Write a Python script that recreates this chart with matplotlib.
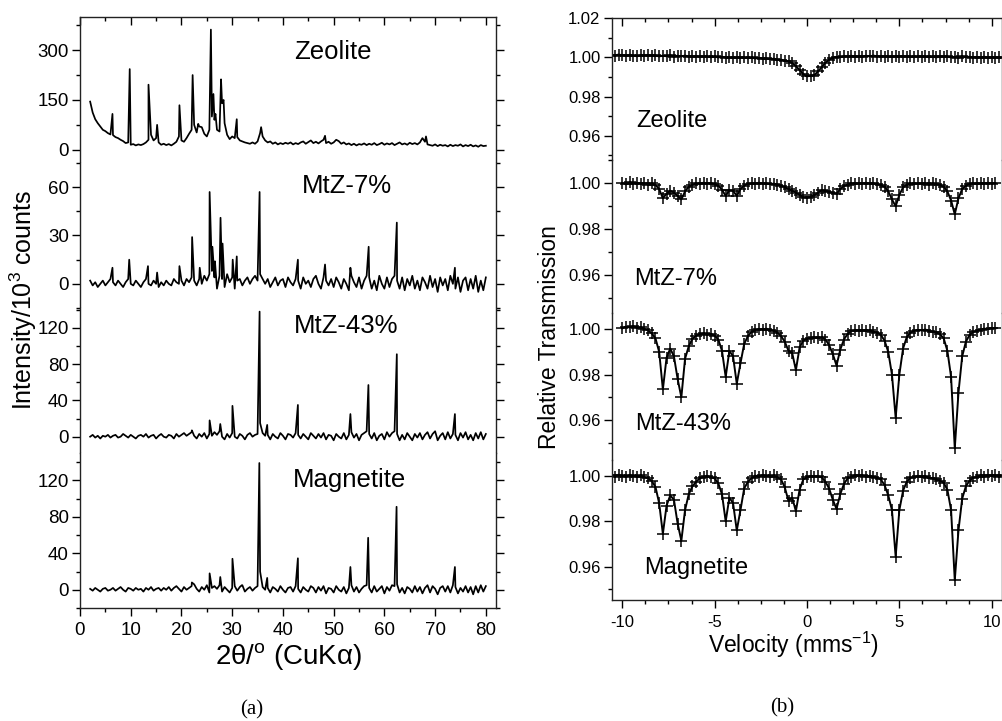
import numpy as np
import matplotlib.pyplot as plt
from matplotlib.ticker import MultipleLocator, FormatStrFormatter

plt.rcParams['font.family'] = ['Liberation Sans', 'DejaVu Sans']
plt.rcParams['mathtext.fontset'] = 'custom'
plt.rcParams['mathtext.rm'] = 'Liberation Sans'
plt.rcParams['mathtext.it'] = 'Liberation Sans:italic'
plt.rcParams['mathtext.bf'] = 'Liberation Sans:bold'
plt.rcParams['axes.unicode_minus'] = False

# ---------------- (a) XRD ----------------
# baseline on a 0.5 deg grid (2..80), peaks as (position, height)
two_theta = np.arange(2.0, 80.01, 0.5)

zeolite_base = [
    145, 112, 92, 80, 70, 60, 56, 50, 46, 44,
    38, 35, 30, 26, 20, 22, 15, 17, 13, 16,
    14, 17, 22, 30, 45, 28, 35, 22, 15, 18,
    14, 17, 13, 18, 24, 40, 28, 24, 35, 48,
    60, 75, 52, 70, 68, 48, 40, 60, 100, 90,
    60, 55, 140, 80, 45, 32, 40, 35, 38, 28,
    25, 22, 20, 18, 22, 18, 25, 50, 40, 28,
    22, 25, 18, 22, 16, 20, 17, 21, 18, 22,
    16, 20, 17, 22, 25, 18, 23, 28, 20, 24,
    19, 25, 30, 20, 24, 18, 22, 30, 26, 18,
    22, 16, 19, 14, 18, 13, 17, 15, 19, 14,
    18, 15, 20, 14, 17, 21, 15, 19, 16, 20,
    14, 18, 22, 16, 19, 15, 21, 17, 20, 16,
    22, 35, 24, 16, 14, 12, 16, 11, 15, 12,
    14, 10, 15, 11, 14, 12, 16, 10, 14, 11,
    15, 10, 13, 9, 14, 11, 12]
zeolite_peak_pos = [6.4, 9.8, 13.5, 15.2, 19.6, 22.2, 23.3, 25.8, 26.3, 26.7,
                    27.8, 28.3, 30.9, 35.7, 48.3, 68.2]
zeolite_peak_h = [108, 243, 196, 75, 134, 225, 78, 362, 168, 108,
                  212, 150, 92, 68, 42, 40]

mtz7_base = [
    2, -1, 1, -2, 0, 2, -1, 1, 3, 1,
    -1, 2, 0, -2, 1, 3, 0, -1, 2, 0,
    -2, 1, 3, 0, -1, 2, 0, -2, 1, -1,
    2, 0, -1, 3, 1, 0, 2, -1, 3, 1,
    4, 2, -1, 3, 0, 5, 2, 6, 8, 4,
    -3, 5, 3, -2, 6, 1, 4, -3, 2, 3,
    -1, 2, 4, 0, 3, 5, 2, 6, 3, 0,
    3, -2, 1, 4, -1, 2, 3, -2, 4, 1,
    -1, 3, 2, -3, 4, 0, 2, -2, 3, 5,
    0, -3, 4, 2, -1, 3, -2, 4, 1, -3,
    3, 0, -4, 5, 1, -2, 4, -3, 2, 5,
    4, -3, 2, -4, 5, 0, -3, 4, -2, 3,
    5, 2, -3, 4, -4, 3, -1, 5, -3, 2,
    -4, 4, 1, -3, 5, -2, 3, -5, 4, -1,
    3, -4, 5, 0, -3, 4, -5, 2, 4, -4,
    3, -3, 5, -5, 2, -4, 4]
mtz7_peak_pos = [6.4, 9.7, 13.4, 15.2, 19.6, 22.1, 23.6, 25.55, 26.1, 26.6,
                 27.7, 28.1, 30.1, 30.9, 35.4, 42.95, 48.3, 53.3, 56.9, 62.45, 73.9]
mtz7_peak_h = [10, 15, 11, 7, 11, 29, 10, 57, 23, 14,
               41, 25, 15, 17, 57, 15, 12, 10, 23, 38, 10]

mtz43_base = [
    0, 2, -1, 1, -2, 1, 0, 2, -1, 1,
    2, -1, 0, 3, 1, -1, 2, 0, -2, 1,
    2, 0, 3, -1, 1, 2, -2, 1, 3, 0,
    -1, 2, 1, -2, 3, 0, 2, 4, 1, 3,
    5, 1, -2, 3, 0, 4, -2, 3, 1, 5,
    2, 6, 0, -3, 3, -1, 4, 0, -2, 3,
    1, -3, 2, 4, 0, 2, 3, 15, 4, 1,
    2, -3, 3, 0, -2, 4, 1, -3, 3, 2,
    -1, 4, 2, -2, 3, 0, -3, 4, 1, -2,
    3, -1, 4, -3, 2, 1, -4, 3, 0, -2,
    4, -3, 2, 5, -1, 3, -4, 2, 4, 6,
    3, -2, 4, -4, 1, 3, -3, 5, 0, 4,
    6, 3, -4, 2, -3, 4, 0, -4, 3, -1,
    4, -3, 2, 5, -2, 3, 6, -4, 1, 4,
    -3, 5, -2, 3, 2, -4, 4, -1, 5, -3,
    2, -4, 4, -2, 5, -3, 3]
mtz43_peak_pos = [22.05, 25.55, 27.65, 30.05, 35.4, 36.9, 42.95, 53.3, 56.85, 62.45, 73.9]
mtz43_peak_h = [7, 18, 14, 34, 138, 13, 35, 25, 57, 91, 25]

magnetite_base = [
    1, -1, 2, 0, -2, 1, 2, -1, 0, 2,
    -1, 1, 3, 0, -2, 2, 1, -1, 2, 0,
    1, -2, 2, 0, 3, -1, 1, 2, -1, 2,
    0, 3, -1, 2, 4, 1, -2, 3, 0, 2,
    4, 6, 1, -2, 3, 0, 5, -3, 2, 4,
    1, 5, -2, 3, 0, -3, 2, 4, -1, 3,
    5, -2, 1, 3, -1, 2, 4, 20, 3, 0,
    2, -3, 3, 1, -2, 4, 0, -3, 2, 3,
    -2, 4, 1, -3, 3, 0, -2, 4, 2, -3,
    3, -1, 4, -4, 2, 1, -3, 4, 0, -2,
    3, -4, 2, 5, -2, 3, -3, 1, 4, 5,
    2, -3, 4, -2, 1, 4, -4, 3, -1, 5,
    4, 6, -3, 2, -4, 3, 1, -3, 4, -2,
    3, -4, 2, 5, -3, 4, 1, -5, 2, 4,
    -2, 4, -3, 5, 3, -4, 2, -2, 4, -3,
    3, -5, 4, -3, 5, -2, 4]
magnetite_peak_pos = [22.05, 25.55, 27.65, 30.05, 31.9, 35.35, 36.9, 42.95, 53.3, 56.8, 62.4, 73.9]
magnetite_peak_h = [8, 18, 14, 34, 5, 139, 13, 34.5, 25, 57, 91, 25]

# ---------------- (b) Mossbauer ----------------
velocity = np.round(np.arange(-10.6, 10.61, 0.2), 1)
nan = np.nan

ms_zeolite = [
    1.0012, 1.0008, 1.0014, 1.0010, 1.0006, 1.0013, 1.0009, 1.0005, 1.0011, 1.0007,
    1.0012, 1.0006, 1.0010, 1.0004, 1.0009, 1.0005, 1.0010, 1.0003, 1.0008, 1.0004,
    1.0009, 1.0003, 1.0007, 1.0002, 1.0006, 1.0001, 1.0005, 1.0000, 1.0004, 0.9999,
    1.0003, 0.9998, 1.0001, 0.9997, 1.0001, 0.9996, 1.0000, 0.9995, 0.9999, 0.9994,
    0.9997, 0.9992, 0.9995, 0.9990, 0.9993, 0.9988, 0.9988, 0.9983, 0.9980, 0.9970,
    0.9955, 0.9935, 0.9915, 0.9903, 0.9906, 0.9910, 0.9928, 0.9950, 0.9972, 0.9988,
    0.9996, 1.0002, 1.0000, 1.0006, 1.0002, 1.0008, 1.0003, 1.0007, 1.0002, 1.0008,
    1.0004, 1.0009, 1.0003, 1.0007, 1.0002, 1.0006, 1.0001, 1.0007, 1.0003, 1.0006,
    1.0001, 1.0005, 1.0000, 1.0006, 1.0002, 1.0005, 1.0000, 1.0004, 0.9999, 1.0005,
    1.0001, 1.0004, 0.9999, 1.0003, 0.9998, 1.0004, 1.0000, 1.0003, 0.9998, 1.0002,
    0.9997, 1.0003, 0.9998, 1.0002, 0.9997, 1.0001, 0.9998]

ms_mtz7 = [
    nan, nan, nan, 1.0002, 0.9996, 1.0004, 0.9999, 1.0003, 0.9997, 1.0002,
    0.9995, 1.0001, 0.9993, 0.9975, 0.9935, 0.9955, 0.9968, 0.9960, 0.9945, 0.9930,
    0.9965, 0.9985, 0.9994, 1.0001, 0.9997, 1.0003, 0.9998, 1.0002, 0.9996, 0.9990,
    0.9972, 0.9945, 0.9970, 0.9968, 0.9945, 0.9975, 0.9990, 0.9998, 1.0001, 0.9997,
    1.0003, 0.9998, 1.0001, 0.9996, 0.9999, 0.9995, 0.9990, 0.9983, 0.9975, 0.9968,
    0.9960, 0.9950, 0.9940, 0.9937, 0.9942, 0.9948, 0.9960, 0.9970, 0.9968, 0.9962,
    0.9958, 0.9955, 0.9975, 0.9988, 0.9995, 1.0001, 0.9997, 1.0002, 0.9998, 1.0003,
    0.9997, 1.0001, 0.9996, 0.9992, 0.9985, 0.9965, 0.9930, 0.9900, 0.9950, 0.9982,
    0.9994, 1.0000, 0.9996, 1.0002, 0.9997, 1.0001, 0.9995, 1.0000, 0.9996, 0.9992,
    0.9985, 0.9965, 0.9925, 0.9865, 0.9935, 0.9975, 0.9990, 0.9997, 1.0001, 0.9997,
    1.0002, 0.9998, 1.0003, 0.9999, 1.0001, nan, nan]

ms_mtz43 = [
    nan, nan, nan, 1.0004, 1.0012, 1.0008, 1.0014, 1.0006, 1.0009, 1.0002,
    0.9995, 0.9982, 0.9960, 0.9900, 0.9735, 0.9875, 0.9915, 0.9880, 0.9780, 0.9700,
    0.9870, 0.9925, 0.9958, 0.9972, 0.9978, 0.9982, 0.9976, 0.9980, 0.9972, 0.9955,
    0.9905, 0.9790, 0.9905, 0.9880, 0.9760, 0.9850, 0.9935, 0.9970, 0.9988, 0.9996,
    1.0002, 0.9998, 1.0003, 0.9997, 0.9994, 0.9985, 0.9970, 0.9945, 0.9905, 0.9895,
    0.9820, 0.9920, 0.9950, 0.9958, 0.9962, 0.9966, 0.9960, 0.9965, 0.9955, 0.9930,
    0.9890, 0.9840, 0.9910, 0.9955, 0.9980, 0.9992, 0.9996, 0.9993, 0.9997, 0.9994,
    0.9996, 0.9990, 0.9985, 0.9975, 0.9950, 0.9900, 0.9800, 0.9610, 0.9800, 0.9915,
    0.9965, 0.9985, 0.9993, 0.9997, 0.9995, 0.9999, 0.9994, 0.9990, 0.9986, 0.9978,
    0.9960, 0.9905, 0.9790, 0.9475, 0.9720, 0.9880, 0.9945, 0.9975, 0.9988, 0.9994,
    0.9999, 1.0003, 1.0001, 1.0006, 1.0004, nan, nan]

ms_magnetite = [
    1.0004, 0.9998, 1.0006, 1.0001, 0.9996, 1.0005, 1.0000, 0.9997, 1.0003, 0.9995,
    0.9990, 0.9978, 0.9952, 0.9880, 0.9745, 0.9870, 0.9915, 0.9895, 0.9790, 0.9715,
    0.9850, 0.9920, 0.9955, 0.9975, 0.9990, 0.9996, 1.0001, 0.9994, 0.9990, 0.9968,
    0.9920, 0.9800, 0.9905, 0.9880, 0.9760, 0.9850, 0.9945, 0.9975, 0.9990, 1.0002,
    0.9998, 1.0005, 1.0001, 0.9997, 1.0003, 0.9995, 0.9985, 0.9950, 0.9890, 0.9905,
    0.9845, 0.9940, 0.9985, 0.9995, 1.0001, 0.9996, 1.0000, 0.9994, 0.9975, 0.9945,
    0.9895, 0.9855, 0.9920, 0.9965, 0.9990, 0.9998, 1.0004, 0.9999, 1.0003, 0.9997,
    1.0002, 0.9996, 0.9993, 0.9985, 0.9960, 0.9915, 0.9850, 0.9645, 0.9850, 0.9935,
    0.9975, 0.9992, 0.9996, 1.0001, 0.9995, 0.9999, 0.9993, 0.9990, 0.9985, 0.9980,
    0.9970, 0.9940, 0.9850, 0.9540, 0.9760, 0.9900, 0.9955, 0.9980, 0.9992, 0.9998,
    1.0003, 0.9997, 1.0004, 1.0000, 1.0005, 0.9998, 1.0003]

names = ['Zeolite', 'MtZ-7%', 'MtZ-43%', 'Magnetite']


def pattern(base, pos, h):
    x = np.concatenate([two_theta, pos])
    y = np.concatenate([np.asarray(base, float), h])
    order = np.argsort(x, kind='stable')
    return x[order], y[order]


W, H = 1003, 721
fig = plt.figure(figsize=(W / 100, H / 100), dpi=100)


def rect(x0, x1, top, bot):
    return [x0 / W, 1 - bot / H, (x1 - x0) / W, (bot - top) / H]


def style(ax, first, last, size, xpad):
    for s in ax.spines.values():
        s.set_linewidth(1.0)
        s.set_color('#222222')
    ax.spines['top'].set_visible(first)
    ax.spines['bottom'].set_visible(last)
    ax.tick_params(axis='y', which='both', direction='out', left=True, right=True,
                   labelsize=size, width=1.0, pad=2)
    ax.tick_params(axis='y', which='major', length=6)
    ax.tick_params(axis='y', which='minor', length=3)
    ax.tick_params(axis='x', which='both', bottom=last, top=first, labelbottom=last,
                   labelsize=size, width=1.0)
    ax.tick_params(axis='x', which='major', length=6)
    ax.tick_params(axis='x', which='minor', length=3)
    if first:
        ax.tick_params(axis='x', which='both', direction='in')
    if last:
        ax.tick_params(axis='x', which='both', direction='out', pad=xpad)


# ---------- left panel ----------
xrd = [pattern(zeolite_base, zeolite_peak_pos, zeolite_peak_h),
       pattern(mtz7_base, mtz7_peak_pos, mtz7_peak_h),
       pattern(mtz43_base, mtz43_peak_pos, mtz43_peak_h),
       pattern(magnetite_base, magnetite_peak_pos, magnetite_peak_h)]
left_rows = [(17, 163), (163, 308), (308, 453), (453, 608)]
left_ylims = [(-40, 400), (-15, 75), (-18, 142), (-20, 150)]
left_major = [150, 30, 40, 40]
left_label_pos = [(333, 52), (347, 186), (346, 326), (350, 480)]

for i in range(4):
    ax = fig.add_axes(rect(80, 496, *left_rows[i]))
    x, y = xrd[i]
    ax.plot(x, y, color='black', lw=1.25)
    ax.set_xlim(0, 82)
    ax.set_ylim(*left_ylims[i])
    ax.xaxis.set_major_locator(MultipleLocator(10))
    ax.xaxis.set_minor_locator(MultipleLocator(5))
    ax.yaxis.set_major_locator(MultipleLocator(left_major[i]))
    ax.yaxis.set_minor_locator(MultipleLocator(left_major[i] / 2))
    ax.yaxis.set_tick_params(labelright=False)
    style(ax, i == 0, i == 3, 13.5, 4)
    lx, ly = left_label_pos[i]
    fig.text(lx / W, 1 - ly / H, names[i], ha='center', va='center', fontsize=18.5)

# ---------- right panel ----------
spectra = [ms_zeolite, ms_mtz7, ms_mtz43, ms_magnetite]
right_rows = [(18, 160), (160, 313), (313, 460), (460, 600)]
right_ylims = [(0.9477, 1.02), (0.9434, 1.0102), (0.9423, 1.0072), (0.9453, 1.0071)]
right_label_pos = [(672, 121), (676, 279), (683, 424), (696, 568)]

for i in range(4):
    ax = fig.add_axes(rect(611.7, 1001.7, *right_rows[i]))
    ax.patch.set_alpha(0)
    ax.plot(velocity, spectra[i], color='black', lw=1.4)
    ax.plot(velocity, spectra[i], '+', color='black', ms=8, mew=1.1)
    ax.set_xlim(-10.57, 10.54)
    ax.set_ylim(*right_ylims[i])
    ax.xaxis.set_major_locator(MultipleLocator(5))
    ax.xaxis.set_minor_locator(MultipleLocator(1.25))
    ax.yaxis.set_major_locator(MultipleLocator(0.02))
    ax.yaxis.set_minor_locator(MultipleLocator(0.01))
    ax.yaxis.set_major_formatter(FormatStrFormatter('%.2f'))
    style(ax, i == 0, i == 3, 12, 5)
    ax.tick_params(axis='y', which='both', right=False)
    lx, ly = right_label_pos[i]
    fig.text(lx / W, 1 - ly / H, names[i], ha='center', va='center', fontsize=17)

# axis titles
fig.text(23 / W, 1 - 300 / H, r'Intensity/10$^3$ counts', rotation=90,
         ha='center', va='center', fontsize=18)
fig.text(288 / W, 1 - 657 / H, r'2θ/$^{\rm o}$ (CuKα)', ha='center', va='center',
         fontsize=20)
fig.text(550 / W, 1 - 337 / H, 'Relative Transmission', rotation=90,
         ha='center', va='center', fontsize=16.5)
fig.text(793 / W, 1 - 645 / H, r'Velocity (mms$^{-1}$)', ha='center', va='center',
         fontsize=16.5)
fig.text(252 / W, 1 - 710 / H, '(a)', ha='center', va='center', fontsize=15,
         family='Liberation Serif')
fig.text(782 / W, 1 - 708 / H, '(b)', ha='center', va='center', fontsize=15,
         family='Liberation Serif')

fig.savefig('out.png', dpi=100)
